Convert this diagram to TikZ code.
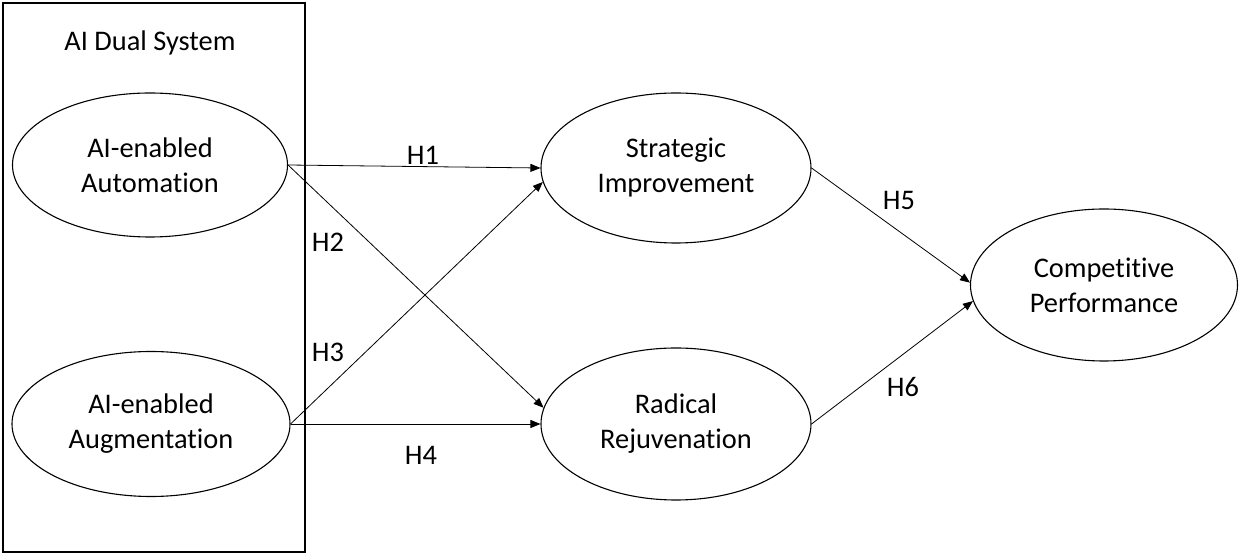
\documentclass[tikz,border=0pt]{standalone}
\usepackage{fontspec}
\setmainfont{Carlito}[Ligatures=NoCommon]
\usetikzlibrary{shapes.geometric,arrows.meta}
\begin{document}
\begin{tikzpicture}[x=0.5pt,y=-0.5pt,
  every node/.style={font=\fontsize{14.2}{17.5}\selectfont},
  oval/.style={ellipse,draw,line width=0.55pt,inner sep=0pt,align=center},
  conn/.style={line width=0.4pt,-{Triangle[length=5pt,width=4pt]}},
  hlabel/.style={inner sep=0pt}]
\useasboundingbox (0,0) rectangle (1239,555);
\draw[line width=0.8pt] (3,3) rectangle (305,552);
\node (title) at (150,43) {AI Dual System};
\node[oval,minimum width=137.5pt,minimum height=72pt] (au) at (150,165) {AI-enabled\\Automation};
\node[oval,minimum width=139pt,minimum height=72.5pt] (ag) at (151,424) {AI-enabled\\Augmentation};
\node[oval,minimum width=135pt,minimum height=75pt] (si) at (676,168) {Strategic\\Improvement};
\node[oval,minimum width=135pt,minimum height=76pt] (rr) at (676,424) {Radical\\Rejuvenation};
\node[oval,minimum width=133.5pt,minimum height=76pt] (cp) at (1104,285) {Competitive\\Performance};
\draw[conn] (au.east) -- (si.west);
\draw[conn] (au.east) -- (rr.173);
\draw[conn] (ag.east) -- (si.186);
\draw[conn] (ag.east) -- (rr.west);
\draw[conn] (si.east) -- (cp.179);
\draw[conn] (rr.east) -- (cp.187);
\node[hlabel] (h1) at (423,155) {H1};
\node[hlabel] (h2) at (328,242) {H2};
\node[hlabel] (h3) at (328,352) {H3};
\node[hlabel] (h4) at (421,455) {H4};
\node[hlabel] (h5) at (899,200) {H5};
\node[hlabel] (h6) at (903,387) {H6};
\end{tikzpicture}
\end{document}
